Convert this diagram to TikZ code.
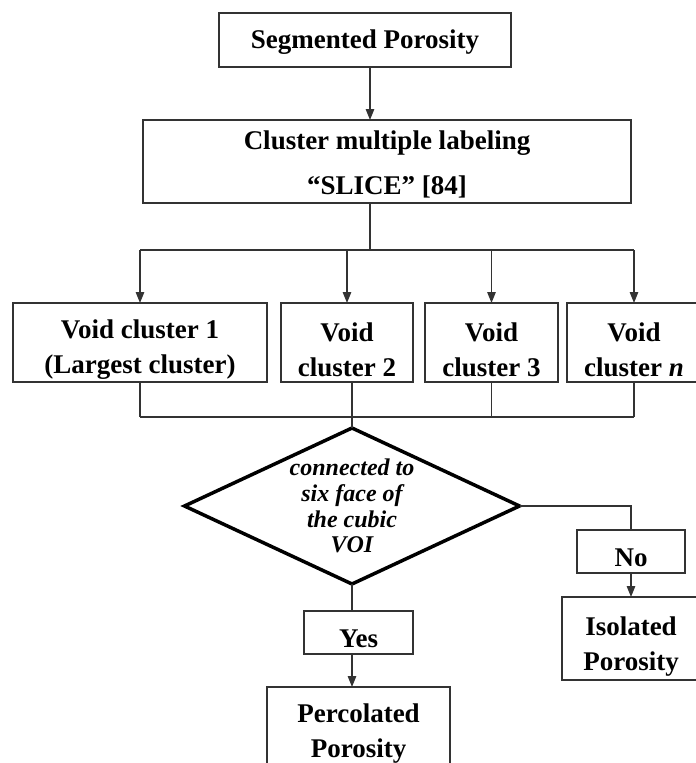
\documentclass[tikz,border=0pt]{standalone}
\usepackage{fontspec}
\setmainfont{Liberation Serif}
\usetikzlibrary{arrows.meta,positioning,shapes.geometric}
\definecolor{linegray}{HTML}{333333}
\newcommand{\boxfont}{\fontsize{27}{35}\selectfont\bfseries}
\newcommand{\decfont}{\fontsize{24}{25.7}\selectfont\bfseries\itshape}

\begin{document}
\begin{tikzpicture}[
      x=1pt, y=-1pt,
      box/.style={draw=linegray, line width=1.3pt, inner sep=0pt, outer sep=0pt,
      align=center, font=\boxfont},
      decision/.style={diamond, draw, line width=3.5pt, inner sep=0pt, outer sep=0pt,
      minimum width=335pt, minimum height=156pt},
      link/.style={draw=linegray, line width=1.3pt},
      flow/.style={link, -{Triangle[length=11pt,width=8.5pt]}}
    ]
    \useasboundingbox (0,0) rectangle (696,763);
    \clip (0,0) rectangle (696,763);
    \node[box, minimum width=292pt, minimum height=54pt, text height=22.5pt] (seg) at (365,40) {Segmented Porosity};
    \node[box, minimum width=488pt, minimum height=83pt, text height=70.5pt,
      font=\fontsize{27}{45}\selectfont\bfseries] (clus) at (387,161.5) {Cluster multiple labeling\\``SLICE'' [84]};
    \node[box, minimum width=254pt, minimum height=79pt, text height=68pt] (v1) at (140,342.5) {Void cluster 1\\(Largest cluster)};
    \node[box, minimum width=132pt, minimum height=79pt, text height=68pt, right=14pt of v1] (v2) {Void\\cluster 2};
    \node[box, minimum width=133pt, minimum height=79pt, text height=68pt, right=12pt of v2] (v3) {Void\\cluster 3};
    \node[box, minimum width=134pt, minimum height=79pt, text height=68pt, right=9pt of v3] (vn) {Void\\cluster \textit{n}};
    \node[decision] (test) at (352,506) {};
    \node[font=\decfont, align=center, inner sep=0pt] (testtxt) at (test) {connected to\\six face of\\the cubic\\VOI};
    \node[box, minimum width=108pt, minimum height=43pt, text height=30pt] (no) at (631,551.5) {No};
    \node[box, minimum width=138pt, minimum height=83pt, text height=70pt, below=24pt of no] (iso) {Isolated\\Porosity};
    \node[box, minimum width=109pt, minimum height=43pt, text height=30pt] (yes) at (358.5,632.5) {Yes};
    \node[box, minimum width=183pt, minimum height=87pt, text height=60.5pt, below=33pt of yes] (perc) {Percolated\\Porosity};
    % top part
    \coordinate (topbus) at (370,250);
    \coordinate (lowbus) at (352,417);
    \draw[flow] (seg.south -| topbus) -- (clus.north -| topbus);
    \draw[link] (clus.south -| topbus) -- (topbus);
    \draw[link] (v1.north |- topbus) -- (vn.north |- topbus);
    \foreach \v in {v1,v2,v3,vn}
      \draw[flow] (\v.north |- topbus) -- (\v.north);
    % collect clusters
    \foreach \v in {v1,v3,vn}
      \draw[link] (\v.south) -- (\v.south |- lowbus);
    \draw[link] (v1.south |- lowbus) -- (vn.south |- lowbus);
    \draw[link] (v2.south -| test.north) -- (test.north);
    % decision
    \draw[link] (test.east) -| (no.north);
    \draw[flow] (no.south) -- (iso.north);
    \draw[link] (test.south) -- (test.south |- yes.north);
    \draw[flow] (yes.south -| test.south) -- (perc.north -| test.south);
  \end{tikzpicture}
\end{document}
